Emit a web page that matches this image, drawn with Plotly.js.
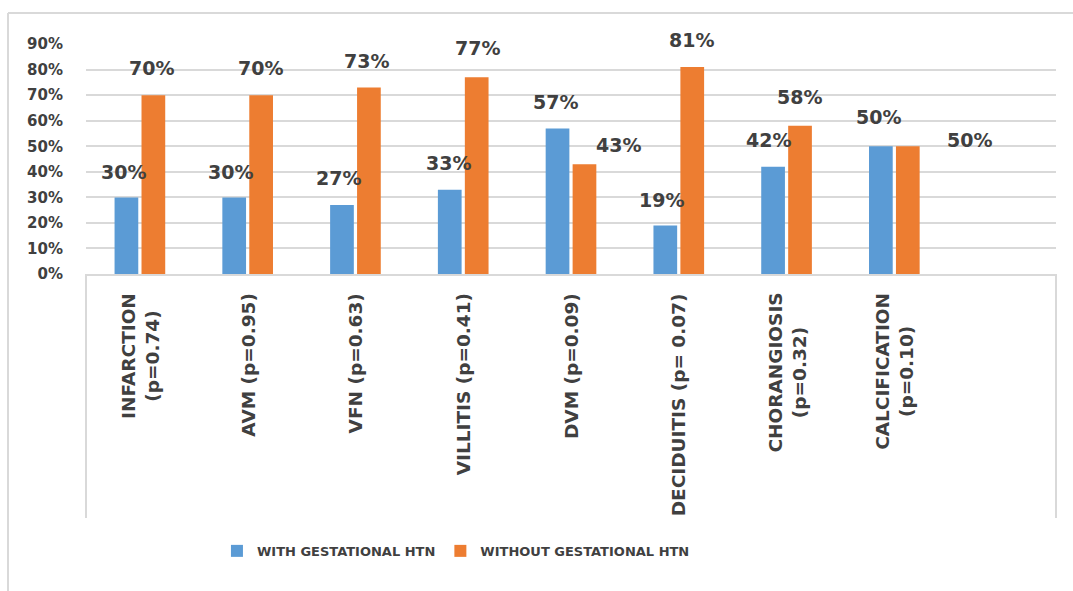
<!DOCTYPE html>
<html>
<head>
<meta charset="utf-8">
<script src="https://cdn.plot.ly/plotly-3.0.1.min.js"></script>
<style>
  html, body { margin: 0; padding: 0; background: #ffffff; }
  #chart { width: 1073px; height: 591px; }
</style>
</head>
<body>
<div id="chart"></div>
<script>
// Placental lesions by group, with p-values in the category labels
const categories = [
  'INFARCTION<br>(p=0.74)',
  'AVM (p=0.95)',
  'VFN (p=0.63)',
  'VILLITIS (p=0.41)',
  'DVM (p=0.09)',
  'DECIDUITIS (p= 0.07)',
  'CHORANGIOSIS<br>(p=0.32)',
  'CALCIFICATION<br>(p=0.10)'
];
const withHTN = [30, 30, 27, 33, 57, 19, 42, 50];
const withoutHTN = [70, 70, 73, 77, 43, 81, 58, 50];
const seriesNames = ['WITH GESTATIONAL HTN', 'WITHOUT GESTATIONAL HTN'];
const yTicks = [0, 10, 20, 30, 40, 50, 60, 70, 80, 90];

// Label placement (pixel offsets from each category centre / bar top)
const blueLabelDx = [-16, -17, -17, -15, -16, -17, -18, -16];
const blueLabelDy = [25, 25, 27, 27, 26, 25, 27, 29];
const orangeLabelDx = [12, 13, 11, 14, 47, 13, 13, 75];
const orangeLabelDy = [27, 27, 27, 29, 19, 27, 29, 6];

const FONT = 'DejaVu Sans, Arial, sans-serif';
const TEXT = '#404040';
const GRID = '#d9d9d9';
const BLUE = '#5b9bd5';
const ORANGE = '#ed7d31';

const traces = [
  { type: 'bar', name: seriesNames[0], x: categories, y: withHTN,
    marker: { color: BLUE }, hoverinfo: 'x+y' },
  { type: 'bar', name: seriesNames[1], x: categories, y: withoutHTN,
    marker: { color: ORANGE }, hoverinfo: 'x+y' }
];

const annotations = [];
function addLabels(values, dx, dy) {
  values.forEach((v, i) => {
    annotations.push({
      x: categories[i], y: v, xref: 'x', yref: 'y',
      text: v + '%', showarrow: false,
      xanchor: 'center', yanchor: 'middle',
      xshift: dx[i], yshift: dy[i],
      font: { family: FONT, size: 19, color: TEXT, weight: 'bold' }
    });
  });
}
addLabels(withHTN, blueLabelDx, blueLabelDy);
addLabels(withoutHTN, orangeLabelDx, orangeLabelDy);

// Rotated category labels, lines centred on each other
categories.forEach(c => {
  annotations.push({
    x: c, y: 0, xref: 'x', yref: 'y',
    text: c, showarrow: false, textangle: -90, align: 'center',
    xanchor: 'center', yanchor: 'top', yshift: -17,
    font: { family: FONT, size: 18.5, color: TEXT, weight: 'bold' }
  });
});

const frameLine = { color: GRID, width: 2 };
const shapes = [
  // outer chart frame (top and left edges)
  { type: 'line', xref: 'paper', yref: 'paper', x0: -0.0804, x1: 1.05, y0: 1.1348, y1: 1.1348, line: frameLine },
  { type: 'line', xref: 'paper', yref: 'paper', x0: -0.0804, x1: -0.0804, y0: 1.1348, y1: -1.4, line: frameLine },
  // category label box sides
  { type: 'line', xref: 'paper', yref: 'paper', x0: 0, x1: 0, y0: 0, y1: -1.061, line: frameLine },
  { type: 'line', xref: 'paper', yref: 'paper', x0: 1, x1: 1, y0: 0, y1: -1.061, line: frameLine }
];

const layout = {
  width: 1073, height: 591,
  margin: { l: 86, r: 17, t: 44, b: 317 },
  paper_bgcolor: '#ffffff', plot_bgcolor: '#ffffff',
  barmode: 'group', bargap: 0.5, bargroupgap: 0.12,
  showlegend: true,
  legend: {
    orientation: 'h', x: 0.135, xanchor: 'left', y: -1.204, yanchor: 'middle',
    font: { family: FONT, size: 13, color: TEXT, weight: 'bold' },
    itemwidth: 30, traceorder: 'normal'
  },
  xaxis: {
    type: 'category', range: [-0.5, 8.5],
    showticklabels: false, ticks: '', showgrid: false,
    showline: true, linecolor: GRID, linewidth: 2,
    fixedrange: true
  },
  yaxis: {
    range: [0, 90.05], tickvals: yTicks, ticktext: yTicks.map(t => t + '%'),
    ticks: '', showline: false, zeroline: false,
    showgrid: true, gridcolor: GRID, gridwidth: 2,
    ticklabelstandoff: 22,
    tickfont: { family: FONT, size: 15, color: TEXT, weight: 'bold' },
    fixedrange: true
  },
  annotations: annotations,
  shapes: shapes
};

Plotly.newPlot('chart', traces, layout, { displayModeBar: false, staticPlot: true });
</script>
</body>
</html>
